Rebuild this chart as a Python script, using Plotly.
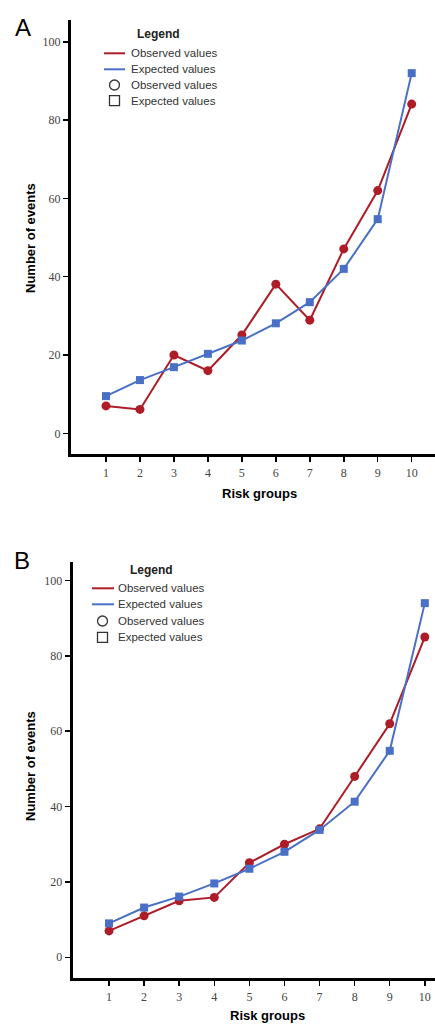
import plotly.graph_objects as go

W, H = 435, 1024

risk_groups = [1, 2, 3, 4, 5, 6, 7, 8, 9, 10]
observed_a = [7.0, 6.1, 20.0, 16.0, 25.1, 38.1, 28.9, 47.1, 62.0, 84.1]
expected_a = [9.5, 13.6, 16.9, 20.3, 23.7, 28.1, 33.5, 42.0, 54.7, 92.0]
observed_b = [7.0, 11.0, 15.0, 15.9, 25.1, 30.0, 34.1, 48.0, 62.0, 85.0]
expected_b = [9.0, 13.2, 16.1, 19.6, 23.5, 28.0, 33.8, 41.3, 54.8, 94.0]
y_ticks = [0, 20, 40, 60, 80, 100]

RED = "#AE1C28"
BLUE = "#4A6FC6"


def px(x):
    return x / W


def py(y):
    return 1 - y / H


fig = go.Figure()

panels = [
    ("x", "y", observed_a, expected_a),
    ("x2", "y2", observed_b, expected_b),
]
for xa, ya, obs, exp in panels:
    fig.add_trace(go.Scatter(
        x=risk_groups, y=obs, mode="lines+markers", xaxis=xa, yaxis=ya,
        line=dict(color=RED, width=2), marker=dict(symbol="circle", size=9, color=RED),
        showlegend=False, name="Observed values", cliponaxis=False))
    fig.add_trace(go.Scatter(
        x=risk_groups, y=exp, mode="lines+markers", xaxis=xa, yaxis=ya,
        line=dict(color=BLUE, width=2), marker=dict(symbol="square", size=8, color=BLUE),
        showlegend=False, name="Expected values", cliponaxis=False))

tickfont = dict(family="Liberation Serif", size=12, color="#444444")
common_axis = dict(showline=True, linewidth=3, linecolor="black", ticks="outside",
                   ticklen=5, tickwidth=1.5, tickcolor="black", showgrid=False,
                   zeroline=False, tickfont=tickfont, fixedrange=True)

fig.update_layout(
    width=W, height=H,
    margin=dict(l=0, r=0, t=0, b=0),
    paper_bgcolor="white", plot_bgcolor="white",
    hovermode=False,
    xaxis=dict(domain=[px(71), 1], range=[-0.03, 10.686], tickvals=risk_groups,
               anchor="y", **common_axis),
    yaxis=dict(domain=[py(454.3), py(20)], range=[-5.36, 105.57], tickvals=y_ticks,
               anchor="x", **common_axis),
    xaxis2=dict(domain=[px(72.7), 1], range=[-0.035, 10.29], tickvals=risk_groups,
                anchor="y2", **common_axis),
    yaxis2=dict(domain=[py(978.3), py(561.7)], range=[-5.58, 105.0], tickvals=y_ticks,
                anchor="x2", **common_axis),
)

annotations = []
shapes = []

title_font = dict(family="Liberation Sans", size=13, color="black")


def add_text(x, y, text, font, angle=0, xanchor="center"):
    annotations.append(dict(x=px(x), y=py(y), xref="paper", yref="paper", text=text,
                            showarrow=False, font=font, textangle=angle,
                            xanchor=xanchor, yanchor="middle"))


# panel letters
add_text(23, 27, "A", dict(family="Liberation Sans", size=24, color="black"))
add_text(22, 560, "B", dict(family="Liberation Sans", size=24, color="black"))

# axis titles
add_text(259, 493, "<b>Risk groups</b>", title_font)
add_text(30, 238, "<b>Number of events</b>", title_font, angle=-90)
add_text(267, 1015, "<b>Risk groups</b>", title_font)
add_text(30, 766, "<b>Number of events</b>", title_font, angle=-90)

# legends
legend_font = dict(family="Liberation Sans", size=11.5, color="#333333")
legend_labels = ["Observed values", "Expected values", "Observed values", "Expected values"]
legend_specs = [
    # title center x, title y, line x0, line x1, marker x, text x, row ys
    (158, 33.7, 104, 125, 114.5, 129, [53.3, 69.3, 85.0, 100.7]),
    (151, 570.0, 92, 114, 102.5, 116, [588.3, 604.3, 621.0, 637.3]),
]
for tcx, ty, lx0, lx1, mx, tx, rows in legend_specs:
    add_text(tcx, ty, "<b>Legend</b>", dict(family="Liberation Sans", size=12, color="#222222"))
    for i, (label, ry) in enumerate(zip(legend_labels, rows)):
        add_text(tx, ry, label, legend_font, xanchor="left")
        if i == 0 or i == 1:
            shapes.append(dict(type="line", xref="paper", yref="paper",
                               x0=px(lx0), x1=px(lx1), y0=py(ry), y1=py(ry),
                               line=dict(color=RED if i == 0 else BLUE, width=2)))
        else:
            r = 5
            shapes.append(dict(type="circle" if i == 2 else "rect", xref="paper", yref="paper",
                               x0=px(mx - r), x1=px(mx + r), y0=py(ry + r), y1=py(ry - r),
                               line=dict(color="#333333", width=1.3)))

fig.update_layout(annotations=annotations, shapes=shapes)

fig.write_html(
    "out.html",
    config={"displayModeBar": False, "staticPlot": True},
    post_script="document.body.style.margin='0';document.body.style.overflow='hidden';",
)
